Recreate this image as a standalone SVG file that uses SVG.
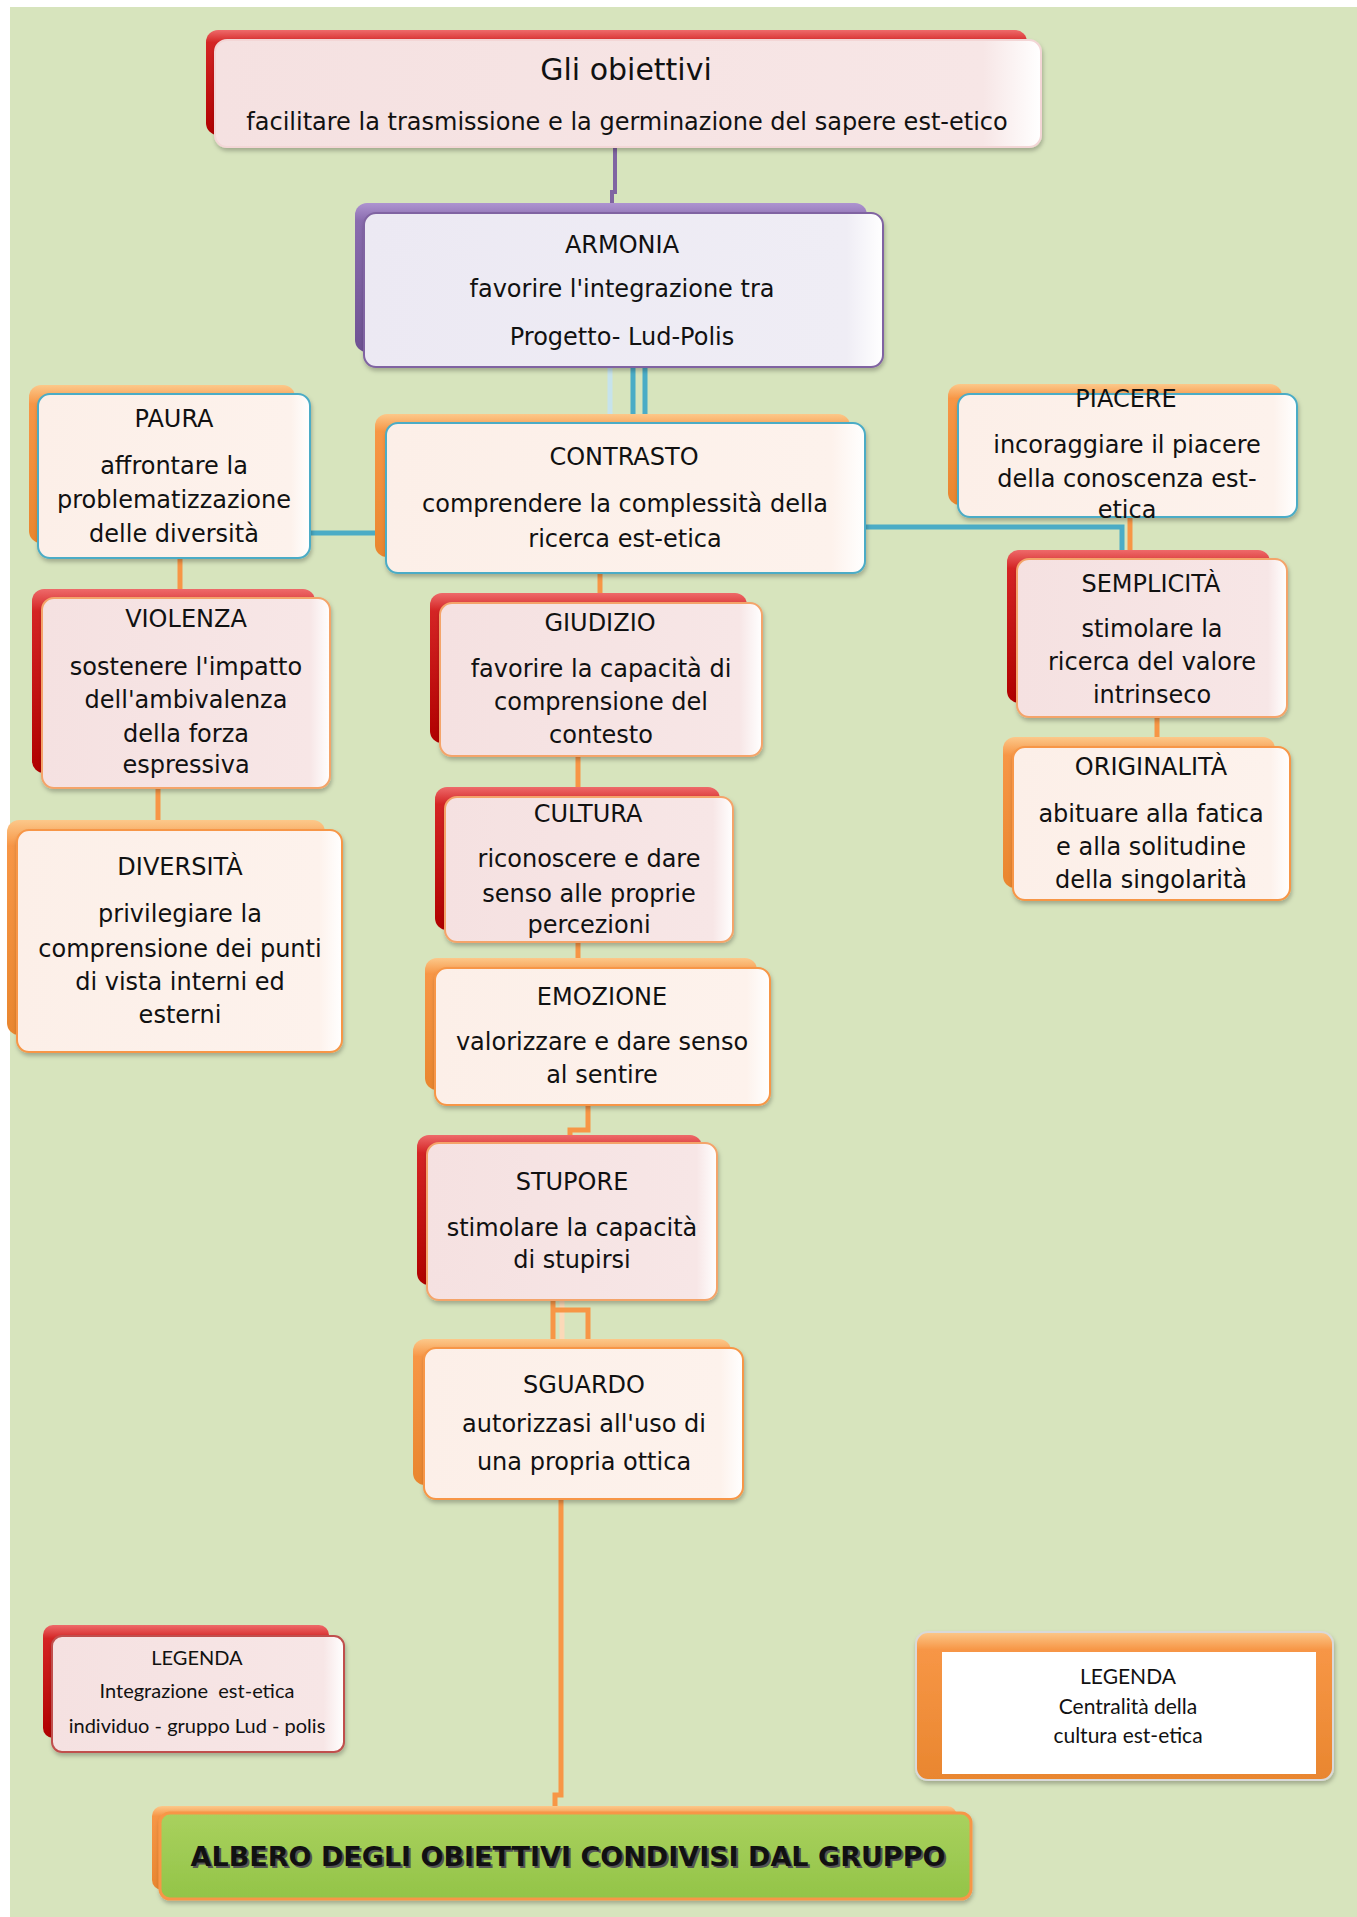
<svg xmlns="http://www.w3.org/2000/svg" width="1357" height="1917" viewBox="0 0 1357 1917">
<style>
.t{font-family:"DejaVu Sans",sans-serif;font-size:24px;text-anchor:middle;fill:#111}
.big{font-size:30px}
.leg{font-family:Lato,"Liberation Sans",sans-serif;font-size:21px;text-anchor:middle;fill:#111}
.legs{font-size:20px}
.alb{font-family:"DejaVu Sans",sans-serif;font-size:27px;font-weight:bold;text-anchor:middle}
.bk-r{fill:url(#gRed)}
.bk-o{fill:url(#gOrange)}
.bk-p{fill:url(#gPurple)}
.fr{filter:url(#sh)}
.fr-pink{fill:url(#gPink);stroke:#F4A46A;stroke-width:2}
.fr-pinkw{fill:url(#gPink);stroke:#F3D6D6;stroke-width:2}
.fr-creamB{fill:url(#gCream);stroke:#4BACC6;stroke-width:2}
.fr-creamO{fill:url(#gCream);stroke:#F79646;stroke-width:2}
.fr-lav{fill:url(#gLav);stroke:#8064A2;stroke-width:2}
.fr-legr{fill:url(#gPink);stroke:#C0504D;stroke-width:2}
.c{fill:none;stroke-width:5}
.co{stroke:#F79646}
.cb{stroke:#4BACC6}
.cp{stroke:#8064A2;stroke-width:4}
</style>
<defs>
<linearGradient id="gRed" x1="0" y1="0" x2="0" y2="1"><stop offset="0" stop-color="#EE6A6A"/><stop offset="0.12" stop-color="#D42424"/><stop offset="1" stop-color="#B00000"/></linearGradient>
<linearGradient id="gOrange" x1="0" y1="0" x2="0" y2="1"><stop offset="0" stop-color="#FCC88A"/><stop offset="0.12" stop-color="#F79646"/><stop offset="1" stop-color="#E9862F"/></linearGradient>
<linearGradient id="gPurple" x1="0" y1="0" x2="0" y2="1"><stop offset="0" stop-color="#AE94D0"/><stop offset="0.12" stop-color="#8A6CAF"/><stop offset="1" stop-color="#6E5293"/></linearGradient>
<linearGradient id="gPink" x1="0" y1="0" x2="1" y2="0"><stop offset="0" stop-color="#F5E1E1"/><stop offset="0.93" stop-color="#F7E6E6"/><stop offset="1" stop-color="#FFFFFF"/></linearGradient>
<linearGradient id="gCream" x1="0" y1="0" x2="1" y2="0"><stop offset="0" stop-color="#FCEFE8"/><stop offset="0.93" stop-color="#FDF2EC"/><stop offset="1" stop-color="#FFFFFF"/></linearGradient>
<linearGradient id="gLav" x1="0" y1="0" x2="1" y2="0"><stop offset="0" stop-color="#ECE9F3"/><stop offset="0.93" stop-color="#EFEDF5"/><stop offset="1" stop-color="#FFFFFF"/></linearGradient>
<linearGradient id="gGreen" x1="0" y1="0" x2="0" y2="1"><stop offset="0" stop-color="#A9D15E"/><stop offset="1" stop-color="#93C448"/></linearGradient>
<filter id="sh" x="-5%" y="-5%" width="110%" height="115%"><feDropShadow dx="1" dy="3" stdDeviation="2" flood-color="#000" flood-opacity="0.25"/></filter>
</defs>
<rect x="0" y="0" width="1357" height="1917" fill="#FFFFFF"/>
<rect x="10" y="7" width="1347" height="1910" fill="#D7E4BD"/>

<g id="connectors">
<path class="c cp" d="M615,147 V192 H612 V205"/>
<path class="c" stroke="#C6E3EC" stroke-width="4" d="M610,367 V423"/>
<path class="c cb" stroke-width="4" d="M633,367 V423 M645,367 V423"/>
<path class="c cb" d="M310,533 H386"/>
<path class="c cb" d="M865,527 H1122 V557"/>
<path class="c co" d="M1130,517 V559"/>
<path class="c co" d="M1157,717 V747"/>
<path class="c co" d="M180,558 V598"/>
<path class="c co" d="M158,788 V830"/>
<path class="c co" d="M600,573 V603"/>
<path class="c co" d="M578,756 V797"/>
<path class="c co" d="M578,942 V968"/>
<path class="c co" d="M588,1105 V1130 H570 V1143"/>
<path class="c" stroke="#FBD9B8" d="M562,1300 V1339"/>
<path class="c co" d="M553,1300 V1339 M553,1310 H588 V1339"/>
<path class="c co" d="M561,1499 V1795 H555 V1806"/>
</g>

<g id="node-obiettivi">
<rect class="bk-r" x="206" y="30" width="821" height="105" rx="12"/>
<rect class="fr fr-pinkw" x="215" y="40" width="826" height="107" rx="12"/>
<text class="t big" x="626" y="80">Gli obiettivi</text>
<text class="t" x="627" y="130">facilitare la trasmissione e la germinazione del sapere est-etico</text>
</g>

<g id="node-armonia">
<rect class="bk-p" x="355" y="203" width="512" height="149" rx="12"/>
<rect class="fr fr-lav" x="364" y="213" width="519" height="154" rx="12"/>
<text class="t" x="622" y="253">ARMONIA</text>
<text class="t" x="622" y="297">favorire l'integrazione tra</text>
<text class="t" x="622" y="345">Progetto- Lud-Polis</text>
</g>

<g id="node-paura">
<rect class="bk-o" x="29" y="385" width="266" height="158" rx="12"/>
<rect class="fr fr-creamB" x="38" y="394" width="272" height="164" rx="12"/>
<text class="t" x="174" y="427">PAURA</text>
<text class="t" x="174" y="474">affrontare la</text>
<text class="t" x="174" y="508">problematizzazione</text>
<text class="t" x="174" y="542">delle diversità</text>
</g>

<g id="node-contrasto">
<rect class="bk-o" x="375" y="414" width="475" height="143" rx="12"/>
<rect class="fr fr-creamB" x="386" y="423" width="479" height="150" rx="12"/>
<text class="t" x="624" y="465">CONTRASTO</text>
<text class="t" x="625" y="512">comprendere la complessità della</text>
<text class="t" x="625" y="547">ricerca est-etica</text>
</g>

<g id="node-piacere">
<rect class="bk-o" x="948" y="384" width="334" height="121" rx="12"/>
<rect class="fr fr-creamB" x="958" y="394" width="339" height="123" rx="12"/>
<text class="t" x="1126" y="407">PIACERE</text>
<text class="t" x="1127" y="453">incoraggiare il piacere</text>
<text class="t" x="1127" y="487">della conoscenza est-</text>
<text class="t" x="1127" y="518">etica</text>
</g>

<g id="node-violenza">
<rect class="bk-r" x="32" y="589" width="283" height="184" rx="12"/>
<rect class="fr fr-pink" x="42" y="598" width="288" height="190" rx="12"/>
<text class="t" x="186" y="627">VIOLENZA</text>
<text class="t" x="186" y="675">sostenere l'impatto</text>
<text class="t" x="186" y="708">dell'ambivalenza</text>
<text class="t" x="186" y="742">della forza</text>
<text class="t" x="186" y="773">espressiva</text>
</g>

<g id="node-diversita">
<rect class="bk-o" x="7" y="820" width="318" height="215" rx="12"/>
<rect class="fr fr-creamO" x="17" y="830" width="325" height="222" rx="12"/>
<text class="t" x="180" y="875">DIVERSITÀ</text>
<text class="t" x="180" y="922">privilegiare la</text>
<text class="t" x="180" y="957">comprensione dei punti</text>
<text class="t" x="180" y="990">di vista interni ed</text>
<text class="t" x="180" y="1023">esterni</text>
</g>

<g id="node-giudizio">
<rect class="bk-r" x="430" y="593" width="317" height="150" rx="12"/>
<rect class="fr fr-pink" x="440" y="603" width="322" height="153" rx="12"/>
<text class="t" x="600" y="631">GIUDIZIO</text>
<text class="t" x="601" y="677">favorire la capacità di</text>
<text class="t" x="601" y="710">comprensione del</text>
<text class="t" x="601" y="743">contesto</text>
</g>

<g id="node-cultura">
<rect class="bk-r" x="435" y="787" width="285" height="143" rx="12"/>
<rect class="fr fr-pink" x="445" y="797" width="288" height="145" rx="12"/>
<text class="t" x="588" y="822">CULTURA</text>
<text class="t" x="589" y="867">riconoscere e dare</text>
<text class="t" x="589" y="902">senso alle proprie</text>
<text class="t" x="589" y="933">percezioni</text>
</g>

<g id="node-emozione">
<rect class="bk-o" x="425" y="958" width="332" height="132" rx="12"/>
<rect class="fr fr-creamO" x="435" y="968" width="335" height="137" rx="12"/>
<text class="t" x="602" y="1005">EMOZIONE</text>
<text class="t" x="602" y="1050">valorizzare e dare senso</text>
<text class="t" x="602" y="1083">al sentire</text>
</g>

<g id="node-stupore">
<rect class="bk-r" x="417" y="1135" width="285" height="150" rx="12"/>
<rect class="fr fr-pink" x="427" y="1143" width="290" height="157" rx="12"/>
<text class="t" x="572" y="1190">STUPORE</text>
<text class="t" x="572" y="1236">stimolare la capacità</text>
<text class="t" x="572" y="1268">di stupirsi</text>
</g>

<g id="node-sguardo">
<rect class="bk-o" x="413" y="1339" width="318" height="146" rx="12"/>
<rect class="fr fr-creamO" x="424" y="1348" width="319" height="151" rx="12"/>
<text class="t" x="584" y="1393">SGUARDO</text>
<text class="t" x="584" y="1432">autorizzasi all'uso di</text>
<text class="t" x="584" y="1470">una propria ottica</text>
</g>

<g id="node-semplicita">
<rect class="bk-r" x="1007" y="550" width="263" height="153" rx="12"/>
<rect class="fr fr-pink" x="1017" y="559" width="270" height="158" rx="12"/>
<text class="t" x="1151" y="592">SEMPLICITÀ</text>
<text class="t" x="1152" y="637">stimolare la</text>
<text class="t" x="1152" y="670">ricerca del valore</text>
<text class="t" x="1152" y="703">intrinseco</text>
</g>

<g id="node-originalita">
<rect class="bk-o" x="1003" y="737" width="272" height="151" rx="12"/>
<rect class="fr fr-creamO" x="1013" y="747" width="277" height="153" rx="12"/>
<text class="t" x="1151" y="775">ORIGINALITÀ</text>
<text class="t" x="1151" y="822">abituare alla fatica</text>
<text class="t" x="1151" y="855">e alla solitudine</text>
<text class="t" x="1151" y="888">della singolarità</text>
</g>

<g id="legend-left">
<rect class="bk-r" x="43" y="1625" width="286" height="113" rx="10"/>
<rect class="fr fr-legr" x="52" y="1636" width="292" height="116" rx="10"/>
<text class="leg legs" x="197" y="1665">LEGENDA</text>
<text class="leg legs" x="197" y="1698" xml:space="preserve">Integrazione  est-etica</text>
<text class="leg legs" x="197" y="1733">individuo - gruppo Lud - polis</text>
</g>

<g id="legend-right">
<rect class="fr" x="916" y="1632" width="417" height="148" rx="12" fill="url(#gOrange)" stroke="#D9D9D9" stroke-width="2"/>
<rect x="942" y="1652" width="374" height="122" fill="#FFFFFF"/>
<text class="leg" x="1128" y="1684">LEGENDA</text>
<text class="leg" x="1128" y="1714">Centralità della</text>
<text class="leg" x="1128" y="1743">cultura est-etica</text>
</g>

<g id="node-albero">
<rect class="bk-o" x="152" y="1806" width="805" height="84" rx="10"/>
<rect class="fr" x="160" y="1813" width="811" height="86" rx="10" fill="url(#gGreen)" stroke="#F79646" stroke-width="3"/>
<text class="alb" x="570" y="1868" fill="#555">ALBERO DEGLI OBIETTIVI CONDIVISI DAL GRUPPO</text>
<text class="alb" x="568" y="1866" fill="#111">ALBERO DEGLI OBIETTIVI CONDIVISI DAL GRUPPO</text>
</g>
</svg>
